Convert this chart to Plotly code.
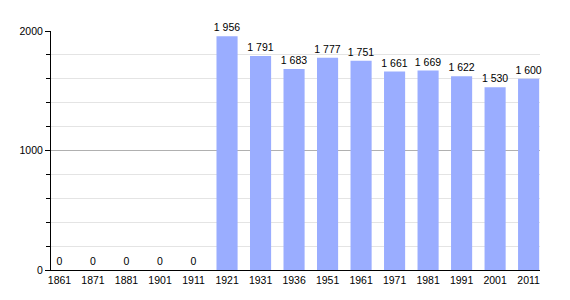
import plotly.graph_objects as go

years = ["1861", "1871", "1881", "1901", "1911", "1921", "1931", "1936",
         "1951", "1961", "1971", "1981", "1991", "2001", "2011"]
population = [0, 0, 0, 0, 0, 1956, 1791, 1683, 1777, 1751, 1661, 1669, 1622, 1530, 1600]
y_ticks = [0, 1000, 2000]


def fmt(v):
    return f"{v:,}".replace(",", " ")


labels = [fmt(v) for v in population]

fig = go.Figure()
fig.add_trace(go.Bar(
    x=list(range(len(years))),
    y=population,
    text=labels,
    textposition="outside",
    constraintext="none",
    textfont=dict(family="Liberation Sans, Arial, sans-serif", size=10.5, color="black"),
    cliponaxis=False,
    marker=dict(color="#9aadff", line=dict(width=0)),
    width=0.63,
    hoverinfo="skip",
))

fig.update_layout(
    width=570, height=300,
    margin=dict(l=51, r=30, t=31, b=30),
    paper_bgcolor="white", plot_bgcolor="white",
    showlegend=False,
    font=dict(family="Liberation Sans, Arial, sans-serif", size=10.5, color="black"),
    xaxis=dict(
        tickmode="array",
        tickvals=list(range(len(years))),
        ticktext=years,
        range=[-0.254, 14.34],
        showgrid=False,
        showline=True, linecolor="black", linewidth=1,
        ticks="", ticklen=0,
        zeroline=False,
        tickfont=dict(size=10.5),
    ),
    yaxis=dict(
        range=[0, 2000],
        tickmode="array",
        tickvals=y_ticks,
        ticktext=[str(t) for t in y_ticks],
        showgrid=True, gridcolor="#b0b0b0", gridwidth=1,
        showline=True, linecolor="black", linewidth=1,
        ticks="outside", ticklen=5, tickcolor="black",
        zeroline=False,
        tickfont=dict(size=10.5),
        minor=dict(dtick=200, showgrid=True, gridcolor="#e4e4e4",
                   ticks="outside", ticklen=4, tickcolor="black"),
    ),
)

fig.write_html("out.html")
